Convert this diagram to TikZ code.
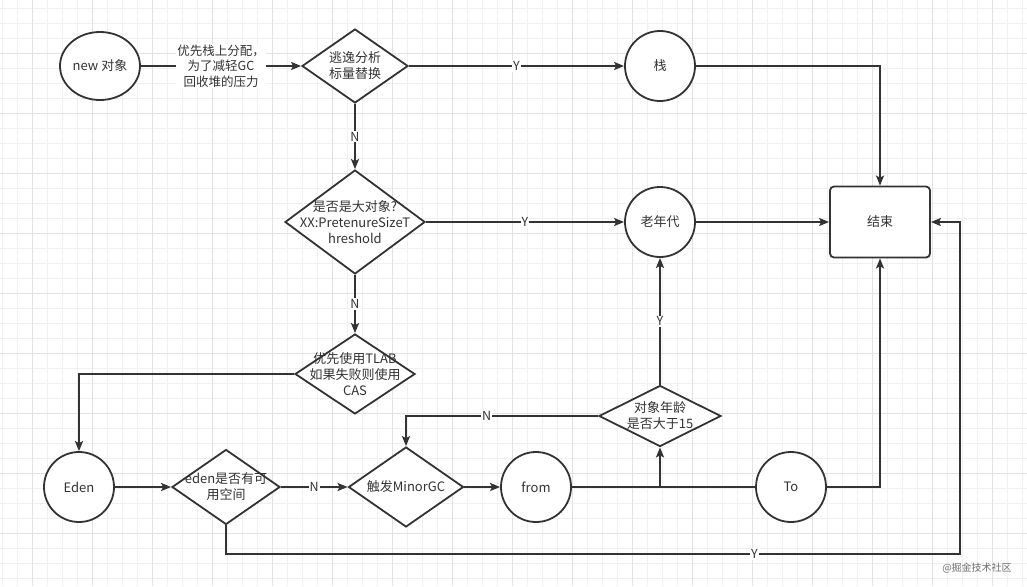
\documentclass[tikz,border=0pt]{standalone}
\usepackage{fontspec}
\setmainfont{Noto Sans CJK SC}
\usepackage{tikz}
\usetikzlibrary{shapes.geometric,arrows.meta}
\definecolor{InkGray}{RGB}{51,51,51}
\definecolor{GridMinor}{RGB}{240,240,240}
\definecolor{GridMajor}{RGB}{226,226,226}
\definecolor{MarkGray}{RGB}{110,110,110}
\tikzset{
  txt/.style={text=InkGray,font=\fontsize{13}{16}\selectfont,align=center,inner sep=1pt},
  blob/.style={circle,draw=InkGray,fill=white,line width=1.8pt,minimum size=70pt,txt},
  ask/.style={diamond,draw=InkGray,fill=white,line width=1.8pt,inner sep=0pt},
  stop/.style={rectangle,rounded corners=4pt,draw=InkGray,fill=white,line width=1.8pt,
    minimum width=100pt,minimum height=71pt,txt},
}
\tikzset{flow/.style={draw=InkGray,line width=1.8pt,-{Stealth[length=10pt,width=8pt,inset=2pt]}},
  link/.style={draw=InkGray,line width=1.8pt},
  elab/.style={txt,fill=white,font=\fontsize{12.5}{15.5}\selectfont}}

\begin{document}
\begin{tikzpicture}[x=1pt,y=-1pt]
\useasboundingbox (0,0) rectangle (1027,586);
\fill[white] (0,0) rectangle (1027,586);
\foreach \k in {0,...,68} \draw[GridMinor,line width=0.8pt] (2.7+15*\k,0) -- (2.7+15*\k,586);
\foreach \k in {0,...,38} \draw[GridMinor,line width=0.8pt] (0,8.3+15*\k) -- (1027,8.3+15*\k);
\foreach \k in {0,...,16} \draw[GridMajor,line width=0.8pt] (32.7+60*\k,0) -- (32.7+60*\k,586);
\foreach \k in {0,...,9} \draw[GridMajor,line width=0.8pt] (0,53.3+60*\k) -- (1027,53.3+60*\k);
\node[ellipse,draw=InkGray,fill=white,line width=1.8pt,minimum width=80pt,minimum height=68pt,txt] (newobj) at (100,66) {new 对象};
\node[ask,minimum width=106pt,minimum height=74pt] (escape) at (355,66) {};
\node[txt] at (escape) {逃逸分析\\标量替换};
\node[blob] (stack) at (660,66) {栈};
\node[ask,minimum width=140pt,minimum height=104pt] (bigobj) at (355,222) {};
\node[txt] at (bigobj) {是否是大对象?\\XX:PretenureSizeT\\hreshold};
\node[blob] (oldgen) at (660,222) {老年代};
\node[stop] (finish) at (880,222) {结束};
\node[ask,minimum width=120pt,minimum height=80pt] (tlab) at (355,374) {};
\node[txt] at (tlab) {优先使用TLAB\\如果失败则使用\\CAS};
\node[blob] (eden) at (79,487) {Eden};
\node[ask,minimum width=108pt,minimum height=75pt] (space) at (226,487) {};
\node[txt] at (space) {eden是否有可\\用空间};
\node[ask,minimum width=115pt,minimum height=80pt] (minor) at (406,487) {};
\node[txt] at (minor) {触发MinorGC};
\node[blob] (from) at (536,487) {from};
\node[ask,minimum width=122pt,minimum height=61pt] (age) at (660,416) {};
\node[txt] at (age) {对象年龄\\是否大于15};
\node[blob] (to) at (791,487) {To};
\coordinate (loop) at (960,554);
\draw[flow] (newobj) -- node[elab] {优先栈上分配，\\为了减轻GC\\回收堆的压力} (escape);
\draw[flow] (escape) -- node[elab] {Y} (stack);
\draw[flow] (stack) -| (finish);
\draw[flow] (escape) -- node[elab] {N} (bigobj);
\draw[flow] (bigobj) -- node[elab] {Y} (oldgen);
\draw[flow] (oldgen) -- (finish);
\draw[flow] (bigobj) -- node[elab] {N} (tlab);
\draw[flow] (tlab) -| (eden);
\draw[flow] (eden) -- (space);
\draw[flow] (space) -- node[elab] {N} (minor);
\draw[flow] (minor) -- (from);
\draw[link] (from) -- (to);
\draw[flow] (from) -| (age);
\draw[flow] (age) -- node[elab] {Y} (oldgen);
\draw[flow] (age) -| node[elab,pos=0.29] {N} (minor);
\draw[flow] (to) -| (finish);
\draw[flow] (space) |- node[elab,pos=0.86] {Y} (loop) |- (finish);
\node[text=MarkGray,font=\fontsize{10}{11}\selectfont,inner sep=0pt] (mark) at (977,568) {@掘金技术社区};
\end{tikzpicture}
\end{document}
